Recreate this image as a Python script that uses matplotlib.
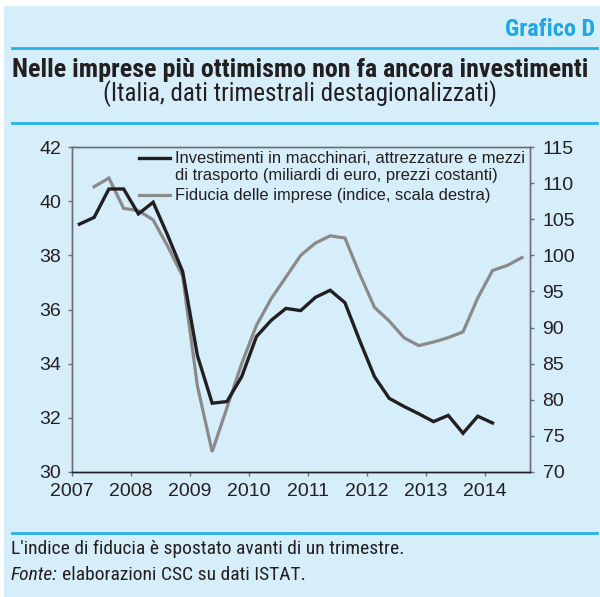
import matplotlib
matplotlib.use("Agg")
import matplotlib.pyplot as plt
from matplotlib import font_manager
from matplotlib.lines import Line2D
from matplotlib.patches import Rectangle
import numpy as np

# quarterly data (x = year + mid-quarter)
inv_start = 2007
investimenti = [39.15, 39.40, 40.45, 40.45,
                39.53, 39.96, 38.72, 37.40,
                34.30, 32.54, 32.60, 33.52,
                35.00, 35.60, 36.04, 35.96,
                36.45, 36.71, 36.25, 34.85,
                33.52, 32.72, 32.42, 32.15,
                31.86, 32.09, 31.43, 32.06,
                31.81]
fid_start = 2007.25  # shifted forward one quarter
fiducia = [109.5, 110.7, 106.5, 106.2,
           104.9, 101.2, 97.1, 81.9,
           72.8, 78.9, 85.0, 90.3,
           94.0, 97.0, 100.0, 101.7,
           102.7, 102.4, 97.4, 92.8,
           90.9, 88.6, 87.5, 88.0,
           88.6, 89.4, 94.1, 97.9,
           98.6, 99.7]

left_ticks = [30, 32, 34, 36, 38, 40, 42]
right_ticks = [70, 75, 80, 85, 90, 95, 100, 105, 110, 115]
years = list(range(2007, 2015))

lbl_inv = ["Investimenti in macchinari, attrezzature e mezzi",
           "di trasporto (miliardi di euro, prezzi costanti)"]
lbl_fid = "Fiducia delle imprese (indice, scala destra)"

BG = "#d6eefa"
BLUE = "#25b2ea"
TXT = "#231f20"
GRAY = "#8a8a8a"
SPINE = "#6d6e71"


def pick_font(cands):
    for c in cands:
        try:
            font_manager.findfont(font_manager.FontProperties(family=c),
                                  fallback_to_default=False)
            return c
        except Exception:
            pass
    return "DejaVu Sans"


NARROW = [pick_font(["Liberation Sans Narrow", "DejaVu Sans Condensed",
                     "Roboto Condensed", "Open Sans Condensed", "Roboto"]), "DejaVu Sans"]
REG = [pick_font(["Liberation Sans", "Roboto"]), "DejaVu Sans"]

fig = plt.figure(figsize=(6.0, 5.97), dpi=100)
W, H = 600.0, 597.0
renderer = fig.canvas.get_renderer()


def fit(t, width_px):
    # scale font size so the text spans the width measured on the reference
    w = t.get_window_extent(renderer).width
    t.set_fontsize(t.get_fontsize() * width_px / w)
    return t


# background panel
fig.patches.append(Rectangle((4 / W, 0), 1 - 4 / W, 1 - 6 / H, transform=fig.transFigure,
                             facecolor=BG, edgecolor="none", zorder=-5))
# blue rules
for yy in (48, 123, 533):
    fig.add_artist(Line2D([12 / W, 597 / W], [1 - yy / H, 1 - yy / H], color=BLUE, lw=2.0))

fit(fig.text(595 / W, 1 - 36 / H, "Grafico D", color="#1ea6e6", fontsize=15,
             fontweight="bold", family=NARROW, ha="right", va="baseline"), 90)
fit(fig.text(300 / W, 1 - 77.5 / H, "Nelle imprese più ottimismo non fa ancora investimenti",
             color=TXT, fontsize=16, fontweight="bold", family=NARROW, ha="center",
             va="baseline"), 575)
fit(fig.text(300 / W, 1 - 101.5 / H, "(Italia, dati trimestrali destagionalizzati)",
             color=TXT, fontsize=14.5, family=NARROW, ha="center", va="baseline"), 394)

f1 = fit(fig.text(11 / W, 1 - 554 / H, "L'indice di fiducia è spostato avanti di un trimestre.",
                  color=TXT, fontsize=11.5, family=NARROW, ha="left", va="baseline"), 393)
fs = f1.get_fontsize()
t1 = fig.text(11 / W, 1 - 580 / H, "Fonte:", color=TXT, fontsize=fs, family=NARROW,
              style="italic", ha="left", va="baseline")
x2 = 11 + t1.get_window_extent(renderer).width + fs * 0.3
fig.text(x2 / W, 1 - 580 / H, "elaborazioni CSC su dati ISTAT.", color=TXT, fontsize=fs,
         family=NARROW, ha="left", va="baseline")

ax = fig.add_axes([72 / W, 1 - 472 / H, 458 / W, 325 / H])
ax2 = ax.twinx()
ax.set_zorder(ax2.get_zorder() + 1)
ax.set_facecolor("none")
ax2.set_facecolor("none")

x_inv = inv_start + 0.125 + 0.25 * np.arange(len(investimenti))
x_fid = fid_start + 0.125 + 0.25 * np.arange(len(fiducia))

ax2.plot(x_fid, fiducia, color=GRAY, lw=2.3, solid_joinstyle="miter")
ax.plot(x_inv, investimenti, color=TXT, lw=2.4, solid_joinstyle="miter")

ax.set_xlim(2007, 2014.76)
ax.set_ylim(30, 42)
ax2.set_ylim(70, 115)
ax.set_xticks(years)
ax.set_yticks(left_ticks)
ax2.set_yticks(right_ticks)

for a in (ax, ax2):
    for s in a.spines.values():
        s.set_color(SPINE)
        s.set_linewidth(1.0)
ax.spines["bottom"].set_color(TXT)
ax2.spines["bottom"].set_color(TXT)

ax.tick_params(axis="x", direction="out", length=3, width=1, color=SPINE, pad=5,
               labelsize=14, labelcolor=TXT)
ax.tick_params(axis="y", direction="out", length=3, width=1, color=SPINE, pad=5,
               labelsize=14, labelcolor=TXT)
ax2.tick_params(axis="y", direction="out", length=3, width=1, color=SPINE, pad=6,
                labelsize=14, labelcolor=TXT)
for lab in ax.get_xticklabels() + ax.get_yticklabels() + ax2.get_yticklabels():
    lab.set_family(REG)

# legend drawn by hand so the handle sits on the first text line
ax.add_line(Line2D([0.146, 0.214], [0.965, 0.965], transform=ax.transAxes, color=TXT, lw=2.4))
ax.add_line(Line2D([0.146, 0.214], [0.851, 0.851], transform=ax.transAxes, color=GRAY, lw=2.3))
l1 = fit(ax.text(0.225, 0.965, lbl_inv[0], transform=ax.transAxes, fontsize=12.3, family=REG,
                 color=TXT, va="center", ha="left"), 351)
lfs = l1.get_fontsize()
ax.text(0.225, 0.912, lbl_inv[1], transform=ax.transAxes, fontsize=lfs, family=REG,
        color=TXT, va="center", ha="left")
ax.text(0.225, 0.851, lbl_fid, transform=ax.transAxes, fontsize=lfs, family=REG,
        color=TXT, va="center", ha="left")

fig.savefig("out.png", dpi=100)
